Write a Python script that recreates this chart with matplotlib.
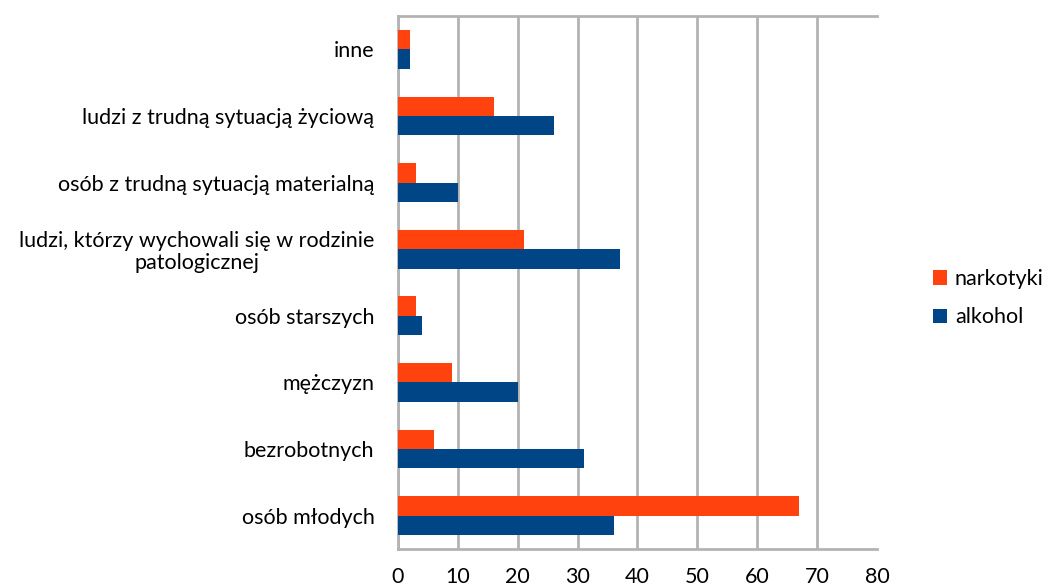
import numpy as np
import matplotlib.pyplot as plt

categories = [
    "osób młodych",
    "bezrobotnych",
    "mężczyzn",
    "osób starszych",
    "ludzi, którzy wychowali się w rodzinie\npatologicznej",
    "osób z trudną sytuacją materialną",
    "ludzi z trudną sytuacją życiową",
    "inne",
]
alkohol = [36, 31, 20, 4, 37, 10, 26, 2]
narkotyki = [67, 6, 9, 3, 21, 3, 16, 2]
xticks = [0, 10, 20, 30, 40, 50, 60, 70, 80]

plt.rcParams['font.family'] = ['Lato', 'DejaVu Sans']
fs = 15.5

fig = plt.figure(figsize=(10.51, 5.88), dpi=100)
ax = fig.add_axes([0.3787, 0.0663, 0.4557, 0.9065])

y = np.arange(len(categories))
h = 0.29
ax.barh(y - h / 2, alkohol, height=h, color='#004586', label='alkohol', zorder=3)
ax.barh(y + h / 2, narkotyki, height=h, color='#ff420e', label='narkotyki', zorder=3)

ax.set_xlim(0, 80)
ax.set_ylim(-0.5, len(categories) - 0.5)
ax.set_xticks(xticks)
ax.set_yticks(y)
ax.set_yticklabels(categories, fontsize=fs, multialignment='center',
                   linespacing=1.1)
ax.tick_params(axis='y', length=0, pad=17)
# reference clips these at the bottom edge; keep them just inside
ax.tick_params(axis='x', length=0, pad=13, labelsize=fs)

ax.grid(axis='x', color='#b3b3b3', linewidth=2, zorder=0)
ax.get_xgridlines()[-1].set_visible(False)  # no line at the right edge
for side in ['top', 'bottom', 'left']:
    ax.spines[side].set_color('#b3b3b3')
    ax.spines[side].set_linewidth(2)
ax.spines['right'].set_visible(False)

handles, labels = ax.get_legend_handles_labels()
fig.legend(handles[::-1], labels[::-1], loc='center left',
           bbox_to_anchor=(0.888, 0.493), frameon=False, fontsize=fs,
           handlelength=0.65, handleheight=0.65, labelspacing=0.85,
           handletextpad=0.35, borderpad=0, borderaxespad=0)

fig.savefig('out.png', dpi=100)
